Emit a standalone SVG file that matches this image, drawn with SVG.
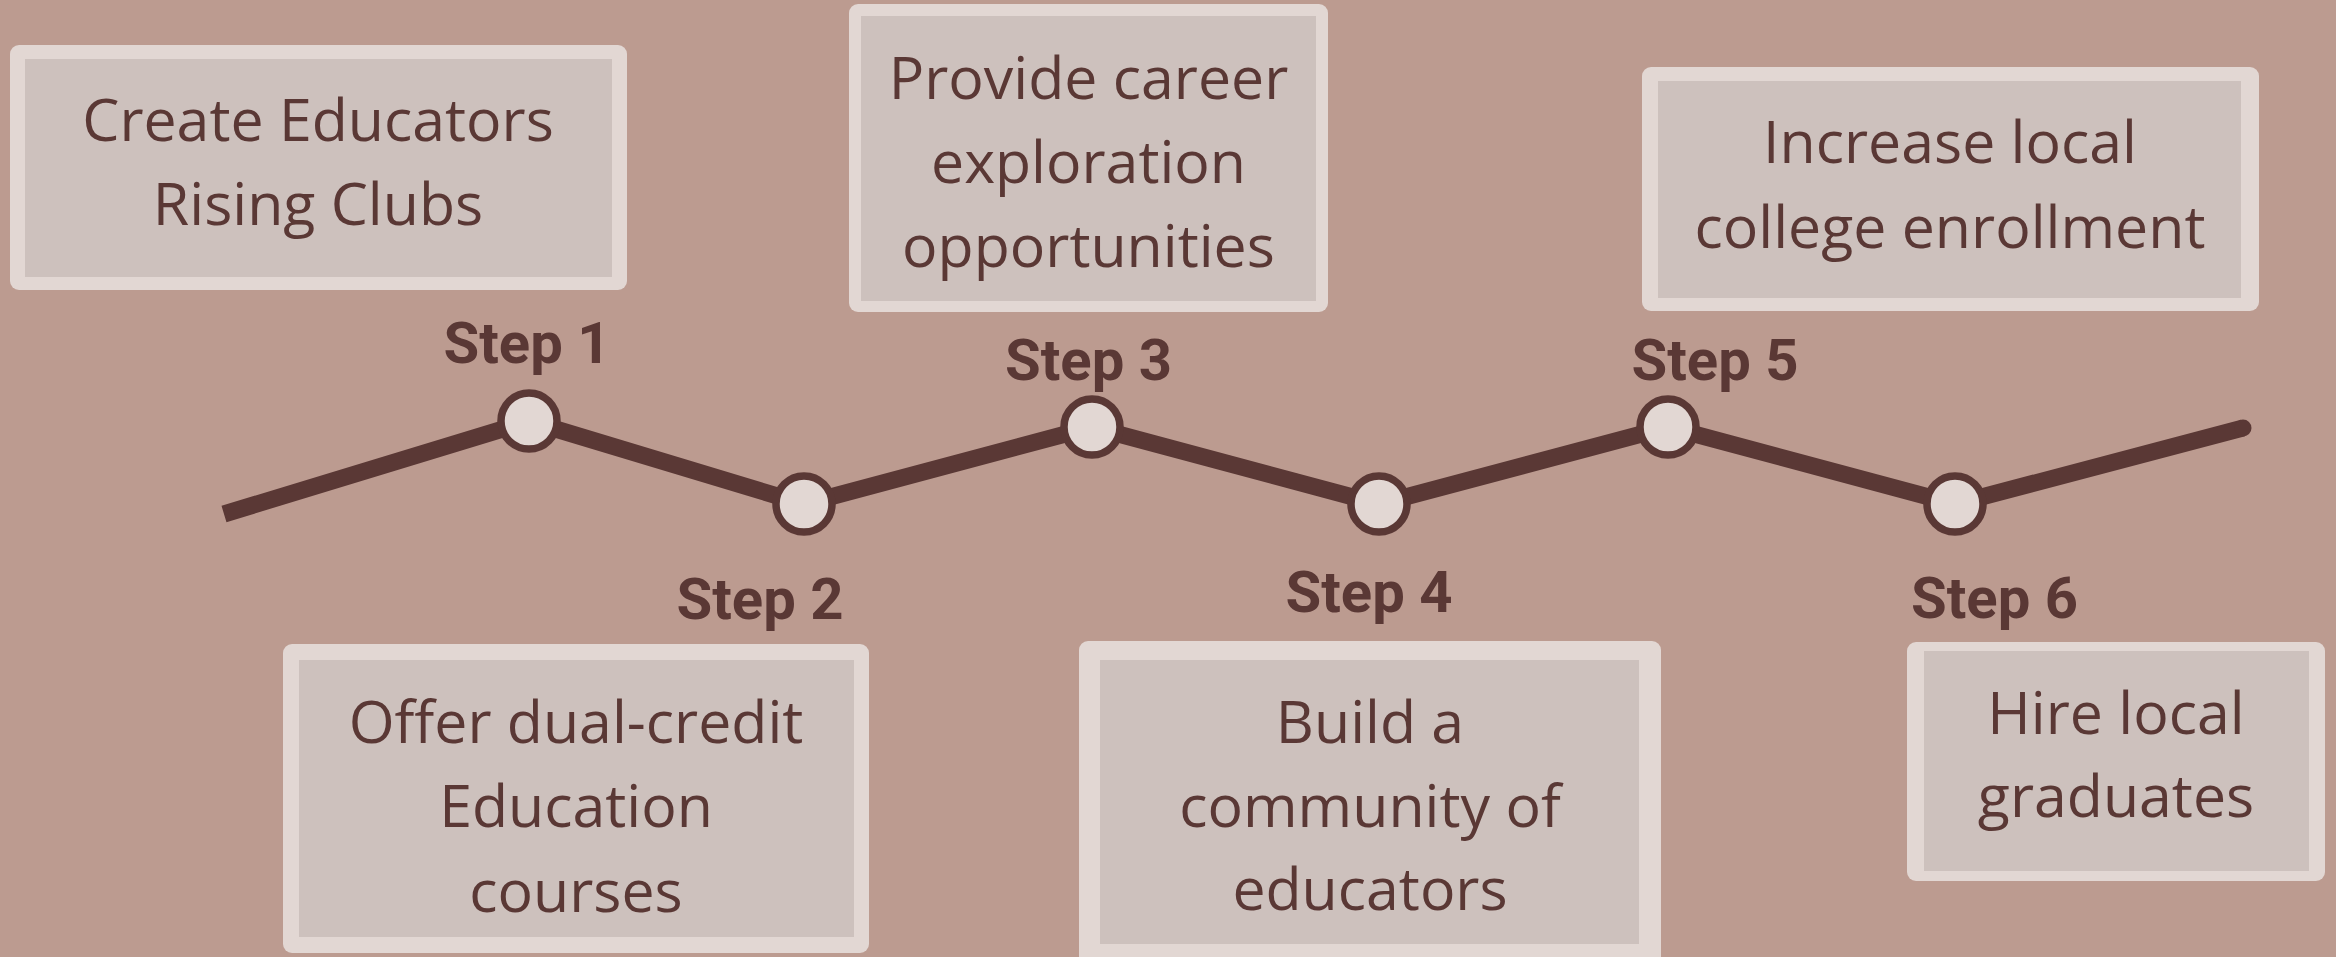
<svg xmlns="http://www.w3.org/2000/svg" width="2336" height="957" viewBox="0 0 2336 957">
<style>
.frame{fill:#E2D7D3;}
.inner{fill:#CDC1BD;}
.t{font-family:"Open Sans","Lato","Liberation Sans",sans-serif;font-size:59px;fill:#5A3835;text-anchor:middle;}
.step{font-family:Roboto,"Liberation Sans",sans-serif;font-weight:bold;font-size:58px;fill:#5A3835;text-anchor:middle;}
.node{fill:#E2D7D3;stroke:#5A3835;stroke-width:7.5;}
.line{fill:none;stroke:#5A3835;stroke-width:17;stroke-linejoin:round;stroke-linecap:butt;}
</style>
<rect width="2336" height="957" fill="#BC9B90"/>
<g id="connectors">
<polyline class="line" points="224,514 529,421 804,504 1092,427 1379,504 1668,427 1955,504 2243,428"/>
<circle cx="2243" cy="428" r="8.5" fill="#5A3835"/>
</g>
<g id="box1">
<rect class="frame" x="10" y="45" width="617" height="245" rx="9"/>
<rect class="inner" x="25" y="59" width="587" height="218"/>
<text class="t" x="318" y="141">Create Educators</text>
<text class="t" x="318" y="225">Rising Clubs</text>
</g>
<g id="box2">
<rect class="frame" x="283" y="644" width="586" height="309" rx="9"/>
<rect class="inner" x="299" y="660" width="555" height="277"/>
<text class="t" x="576" y="743">Offer dual-credit</text>
<text class="t" x="576" y="827">Education</text>
<text class="t" x="576" y="912">courses</text>
</g>
<g id="box3">
<rect class="frame" x="849" y="4" width="479" height="308" rx="9"/>
<rect class="inner" x="861" y="16" width="455" height="285"/>
<text class="t" x="1088.5" y="99">Provide career</text>
<text class="t" x="1088.5" y="183">exploration</text>
<text class="t" x="1088.5" y="267">opportunities</text>
</g>
<g id="box4">
<rect class="frame" x="1079" y="641" width="582" height="325" rx="9"/>
<rect class="inner" x="1100" y="660" width="539" height="284"/>
<text class="t" x="1370" y="743">Build a</text>
<text class="t" x="1370" y="827">community of</text>
<text class="t" x="1370" y="910">educators</text>
</g>
<g id="box5">
<rect class="frame" x="1642" y="67" width="617" height="244" rx="9"/>
<rect class="inner" x="1658" y="81" width="583" height="217"/>
<text class="t" x="1950" y="163">Increase local</text>
<text class="t" x="1950" y="248">college enrollment</text>
</g>
<g id="box6">
<rect class="frame" x="1907" y="642" width="418" height="239" rx="9"/>
<rect class="inner" x="1924" y="651" width="385" height="220"/>
<text class="t" x="2116" y="734">Hire local</text>
<text class="t" x="2116" y="817">graduates</text>
</g>
<g id="step1"><circle class="node" cx="529" cy="421" r="28"/><text class="step" x="527" y="363">Step 1</text></g>
<g id="step2"><circle class="node" cx="804" cy="504" r="28"/><text class="step" x="760" y="619">Step 2</text></g>
<g id="step3"><circle class="node" cx="1092" cy="427" r="28"/><text class="step" x="1088.5" y="380">Step 3</text></g>
<g id="step4"><circle class="node" cx="1379" cy="504" r="28"/><text class="step" x="1369" y="612">Step 4</text></g>
<g id="step5"><circle class="node" cx="1668" cy="427" r="28"/><text class="step" x="1715" y="380">Step 5</text></g>
<g id="step6"><circle class="node" cx="1955" cy="504" r="28"/><text class="step" x="1994.5" y="618">Step 6</text></g>
</svg>
